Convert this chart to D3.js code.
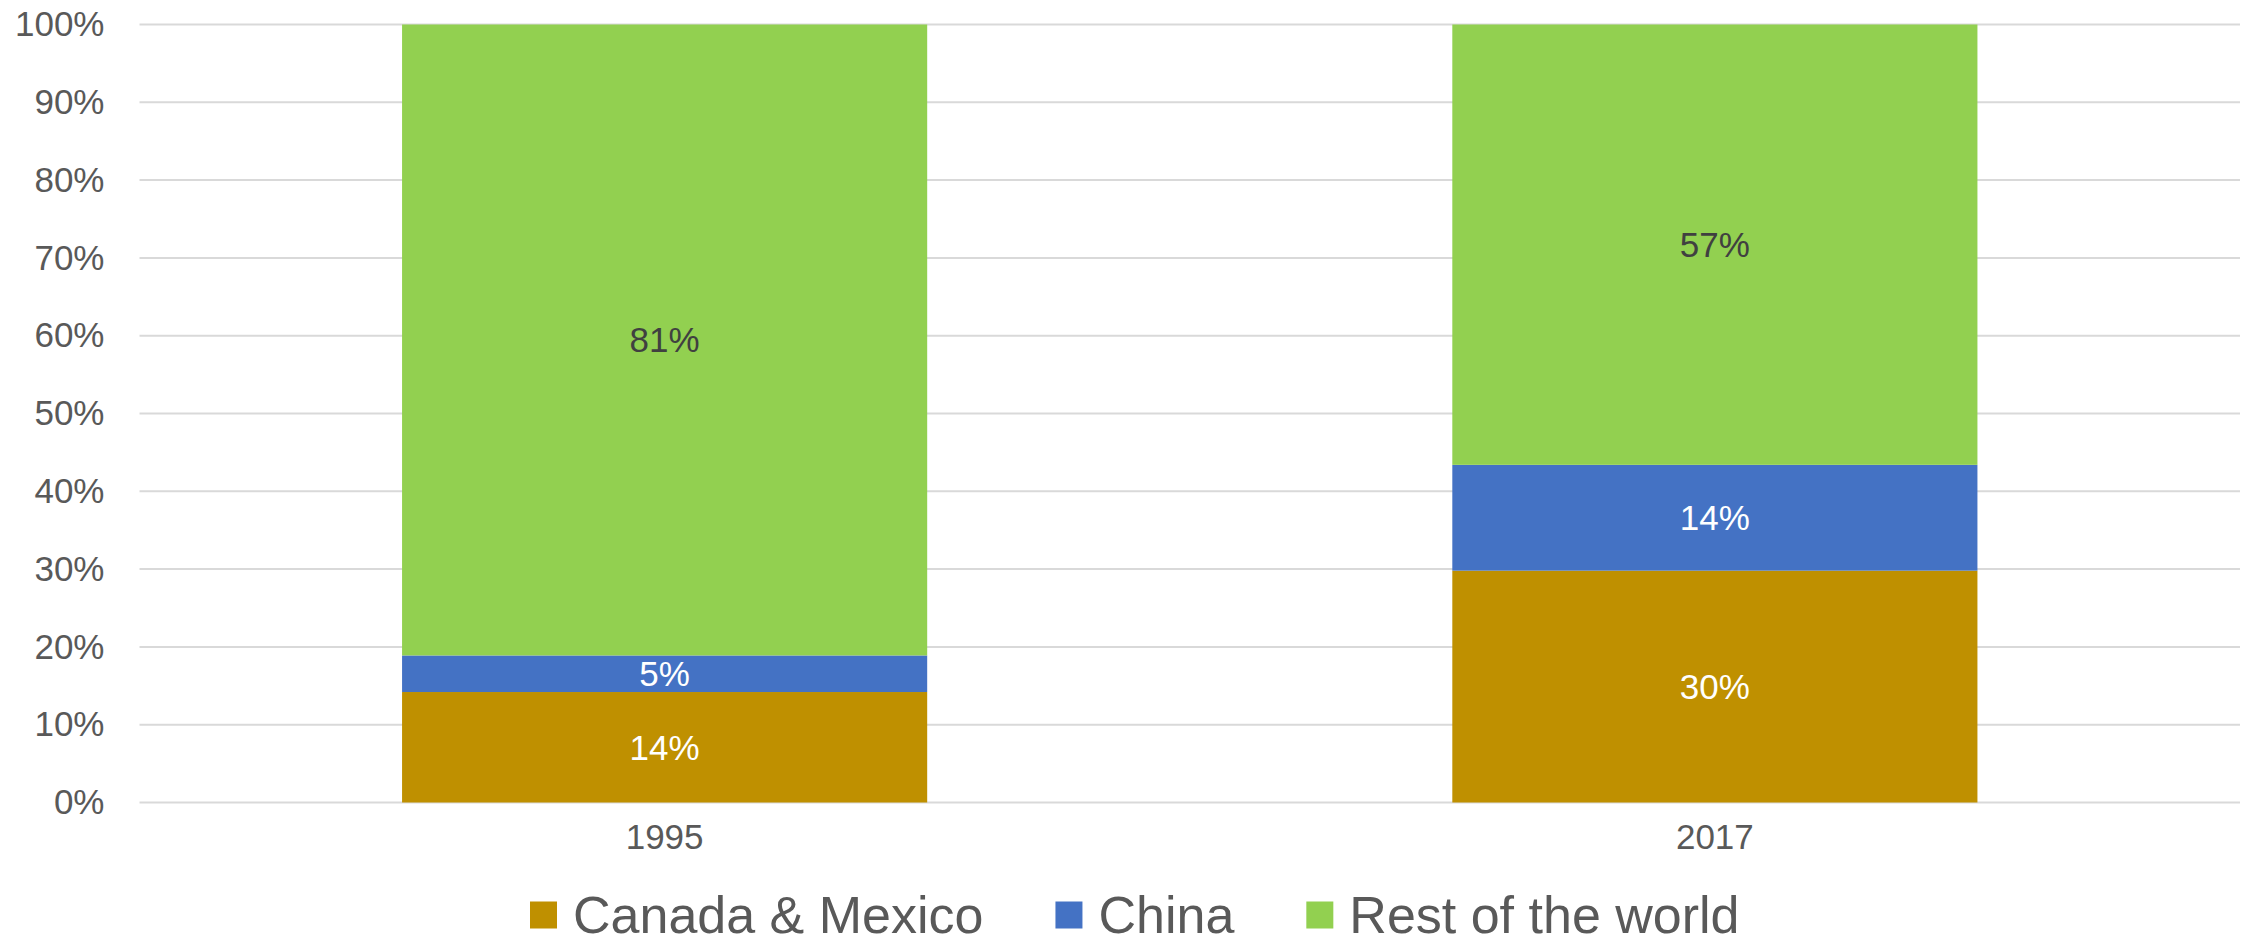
<!DOCTYPE html>
<html>
<head>
<meta charset="utf-8">
<script src="https://cdn.jsdelivr.net/npm/d3@7"></script>
<style>
  html, body { margin: 0; padding: 0; background: #ffffff; }
  svg { display: block; font-family: "Liberation Sans", Arial, sans-serif; }
</style>
</head>
<body>
<svg id="chart" width="2246" height="944"></svg>
<script>
// Share of imports by origin, in percent
const years = ["1995", "2017"];
const seriesNames = ["Canada & Mexico", "China", "Rest of the world"];
const canadaMexico = [14.2, 29.8];
const china = [4.7, 13.6];
const restOfWorld = [81.1, 56.6];
const yTicks = [0, 10, 20, 30, 40, 50, 60, 70, 80, 90, 100];

const colors = ["#BF9000", "#4472C4", "#92D050"];
const labelColors = ["#ffffff", "#ffffff", "#404040"];

const rows = years.map((y, i) => ({
  year: y,
  "Canada & Mexico": canadaMexico[i],
  "China": china[i],
  "Rest of the world": restOfWorld[i]
}));

const svg = d3.select("#chart");
const margin = { left: 139.5, right: 6, top: 24.5, bottom: 141.5 };
const W = 2246, H = 944;

const x = d3.scaleBand().domain(years)
  .range([margin.left, W - margin.right])
  .paddingInner(0.5).paddingOuter(0.25);
const y = d3.scaleLinear().domain([0, 100]).range([H - margin.bottom, margin.top]);

// Gridlines
svg.append("g")
  .selectAll("line")
  .data(yTicks)
  .join("line")
  .attr("x1", margin.left)
  .attr("x2", W - margin.right)
  .attr("y1", d => y(d))
  .attr("y2", d => y(d))
  .attr("stroke", "#d9d9d9")
  .attr("stroke-width", 2);

// Y axis labels
const yAxis = d3.axisLeft(y).tickValues(yTicks).tickFormat(d => d + "%").tickSize(0).tickPadding(35);
const gy = svg.append("g").attr("transform", `translate(${margin.left},0)`).call(yAxis);
gy.select(".domain").remove();
gy.selectAll("text")
  .attr("fill", "#595959")
  .style("font-size", "35px")
  .style("font-family", "'Liberation Sans', Arial, sans-serif");

// X axis labels
const xAxis = d3.axisBottom(x).tickSize(0).tickPadding(22);
const gx = svg.append("g").attr("transform", `translate(0,${y(0)})`).call(xAxis);
gx.select(".domain").remove();
gx.selectAll("text")
  .attr("fill", "#595959")
  .style("font-size", "35px")
  .style("font-family", "'Liberation Sans', Arial, sans-serif");

// Stacked bars
const stack = d3.stack().keys(seriesNames);
const layers = stack(rows);

const layerG = svg.append("g")
  .selectAll("g")
  .data(layers)
  .join("g")
  .attr("fill", (d, i) => colors[i]);

layerG.selectAll("rect")
  .data(d => d)
  .join("rect")
  .attr("x", d => x(d.data.year))
  .attr("width", x.bandwidth())
  .attr("y", d => y(d[1]))
  .attr("height", d => y(d[0]) - y(d[1]));

// Value labels
const labelG = svg.append("g");
layers.forEach((layer, li) => {
  labelG.selectAll(null)
    .data(layer)
    .join("text")
    .attr("x", d => x(d.data.year) + x.bandwidth() / 2)
    .attr("y", d => (y(d[0]) + y(d[1])) / 2)
    .attr("dy", "0.35em")
    .attr("text-anchor", "middle")
    .attr("fill", labelColors[li])
    .style("font-size", "35px")
    .text(d => Math.round(d[1] - d[0]) + "%");
});

// Legend
const legend = svg.append("g");
let lx = 530;
const legendY = 915;
seriesNames.forEach((name, i) => {
  legend.append("rect")
    .attr("x", lx)
    .attr("y", legendY - 13.5)
    .attr("width", 27)
    .attr("height", 27)
    .attr("fill", colors[i]);
  const t = legend.append("text")
    .attr("x", lx + 43)
    .attr("y", legendY)
    .attr("dy", "0.35em")
    .attr("fill", "#595959")
    .style("font-size", "52px")
    .text(name);
  lx += 43 + t.node().getComputedTextLength() + 72;
});
</script>
</body>
</html>
